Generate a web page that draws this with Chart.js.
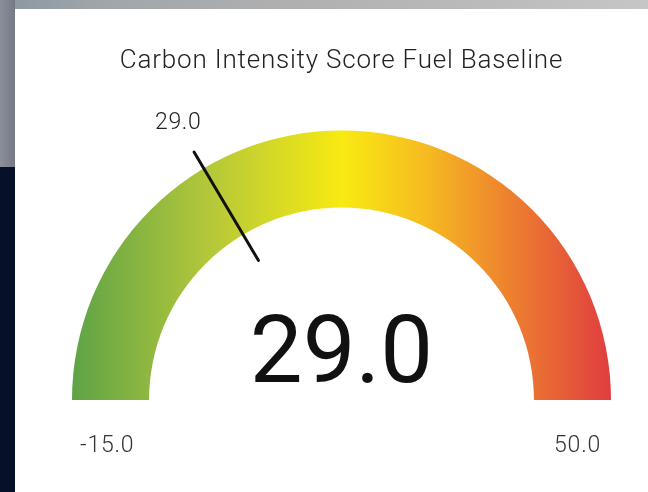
<!DOCTYPE html>
<html>
<head>
<meta charset="utf-8">
<script src="https://cdn.jsdelivr.net/npm/chart.js@4"></script>
<style>
  html, body { margin: 0; padding: 0; }
  body { width: 648px; height: 492px; position: relative; overflow: hidden; background: #061127; }
  #topStrip { position: absolute; left: 0; top: 0; width: 648px; height: 9px;
    background: linear-gradient(90deg, #8a969e 0%, #9fa6ab 15%, #b0b0b0 45%, #bdbdbd 80%, #c6c6c6 100%); }
  #leftStrip { position: absolute; left: 0; top: 0; width: 15px; height: 167px;
    background: linear-gradient(90deg, #8a8f99 0%, #7d828e 60%, #747985 100%); }
  #card { position: absolute; left: 15px; top: 9px; width: 633px; height: 483px; background: #fff; }
  canvas { display: block; }
</style>
</head>
<body>
<div id="topStrip"></div>
<div id="leftStrip"></div>
<div id="card"><canvas id="gauge" width="633" height="483"></canvas></div>
<script>
const title = 'Carbon Intensity Score Fuel Baseline';
const gaugeMin = -15.0;
const gaugeMax = 50.0;
const gaugeValue = 29.0;
// the marker sits here on the arc, but is labelled with the score
const markerAt = 6.4;
const markerLabel = '29.0';

const gradientStops = [
  [0, '#5ea347'], [0.25, '#b3c73a'], [0.5, '#f8ea12'],
  [0.65, '#f6bd20'], [0.8, '#ee852e'], [1, '#e03d3f']
];

const fmt = v => v.toFixed(1);

const arcGradient = (context) => {
  const area = context.chart.chartArea;
  if (!area) return null;
  const g = context.chart.ctx.createLinearGradient(area.left, 0, area.right, 0);
  gradientStops.forEach(([p, c]) => g.addColorStop(p, c));
  return g;
};

const gaugeText = {
  id: 'gaugeText',
  afterDraw(chart) {
    const arc = chart.getDatasetMeta(0).data[0];
    if (!arc) return;
    const { x, y, outerRadius, innerRadius } = arc.getProps(['x', 'y', 'outerRadius', 'innerRadius'], true);
    const ctx = chart.ctx;
    ctx.save();

    // title
    ctx.fillStyle = '#222';
    ctx.font = '300 26px Roboto';
    ctx.letterSpacing = '0.8px';
    ctx.textAlign = 'center';
    ctx.textBaseline = 'alphabetic';
    ctx.fillText(title, x, 59);

    // marker line + label
    const frac = (markerAt - gaugeMin) / (gaugeMax - gaugeMin);
    const ang = Math.PI + frac * Math.PI;
    const cos = Math.cos(ang), sin = Math.sin(ang);
    ctx.strokeStyle = '#111';
    ctx.lineWidth = 3;
    ctx.lineCap = 'round';
    ctx.beginPath();
    ctx.moveTo(x + cos * (innerRadius - 30), y + sin * (innerRadius - 30));
    ctx.lineTo(x + cos * (outerRadius + 19), y + sin * (outerRadius + 19));
    ctx.stroke();

    ctx.fillStyle = '#222';
    ctx.font = '300 23px Roboto';
    ctx.letterSpacing = '0.6px';
    ctx.textBaseline = 'middle';
    ctx.fillText(markerLabel, x + cos * (outerRadius + 52) + 1, y + sin * (outerRadius + 52));

    // big value
    ctx.fillStyle = '#111';
    ctx.font = '400 94px Roboto';
    ctx.letterSpacing = '0px';
    ctx.textBaseline = 'alphabetic';
    ctx.fillText(fmt(gaugeValue), x, y - 18);

    // min / max
    ctx.fillStyle = '#333';
    ctx.font = '300 23px Roboto';
    ctx.letterSpacing = '0.8px';
    ctx.textAlign = 'left';
    ctx.fillText(fmt(gaugeMin), x - outerRadius + 8, y + 52);
    ctx.textAlign = 'right';
    ctx.fillText(fmt(gaugeMax), x + outerRadius - 10, y + 52);
    ctx.restore();
  }
};

new Chart(document.getElementById('gauge'), {
  type: 'doughnut',
  data: {
    labels: ['range'],
    datasets: [{
      data: [gaugeMax - gaugeMin],
      backgroundColor: arcGradient,
      borderWidth: 0
    }]
  },
  options: {
    responsive: false,
    animation: false,
    events: [],
    rotation: -90,
    circumference: 180,
    cutout: '71.4%',
    layout: { padding: { left: 57, right: 37, top: 121.5, bottom: 92 } },
    plugins: {
      legend: { display: false },
      tooltip: { enabled: false },
      title: { display: false }
    }
  },
  plugins: [gaugeText]
});
</script>
</body>
</html>
